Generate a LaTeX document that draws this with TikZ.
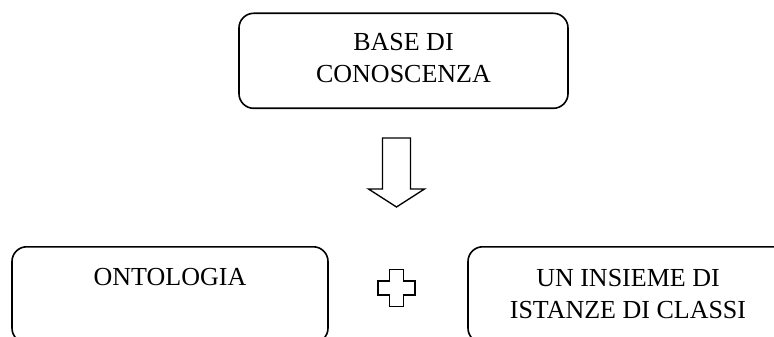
\documentclass[tikz,border=0pt]{standalone}
\usepackage{fontspec}
\setmainfont{Liberation Serif}
\usepackage{tikz}

\tikzset{
  kbox/.style={draw,line width=1.2pt,rounded corners=11pt,inner xsep=0pt,inner ysep=0pt,
    align=center,anchor=north,font=\fontsize{19.5}{24}\selectfont},
  hollow/.style={draw,line width=1pt,line join=miter}
}

\begin{document}
\begin{tikzpicture}[x=0.75pt,y=0.75pt]
\clip (0,0) rectangle (774,336);
\node[kbox,minimum width=246.75pt,text height=52.1pt,text depth=19.15pt] (base) at (403.5,323.5) {BASE DI\\CONOSCENZA};
\node[kbox,minimum width=237pt,text height=29.25pt,text depth=42.75pt] (onto) at (170,90) {ONTOLOGIA};
\node[kbox,minimum width=240pt,text height=54pt,text depth=18pt] (ist) at (628,90) {UN INSIEME DI\\ISTANZE DI CLASSI};
% freccia vuota
\coordinate (atop) at (396.5,198);
\coordinate (atip) at (396.5,129);
\draw[hollow] (atop) ++(-14,0) -- ++(0,-51) -- ++(-14,0) -- (atip) -- ++(28,18) -- ++(-14,0) -- ++(0,51) -- cycle;
% segno piu
\coordinate (plusc) at (396.5,48);
\draw[hollow,shift={(plusc)}] (-7,18.5) -- (7,18.5) -- (7,7) -- (18.5,7) -- (18.5,-7) -- (7,-7) -- (7,-18.5)
  -- (-7,-18.5) -- (-7,-7) -- (-18.5,-7) -- (-18.5,7) -- (-7,7) -- cycle;
\end{tikzpicture}
\end{document}
